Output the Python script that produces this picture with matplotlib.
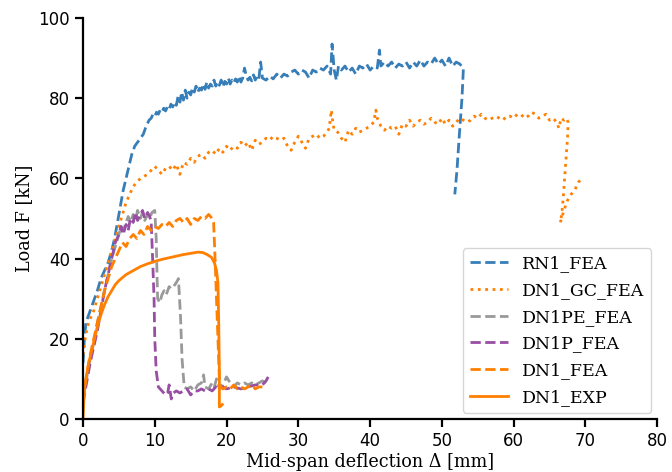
import matplotlib
matplotlib.use('Agg')
import matplotlib.pyplot as plt

# colours (Set1-like)
BLUE = '#377eb8'
ORANGE = '#ff7f00'
GREY = '#999999'
PURPLE = '#984ea3'

# RN1_FEA
rn1_x = [0.0, 0.2, 0.4, 0.8, 1.2, 1.6, 2.0, 2.5, 3.0, 3.5, 4.0, 4.4, 4.8, 5.2, 5.6, 6.0, 6.4, 6.8,
         7.2, 7.6, 8.0, 8.4, 8.8, 9.2,
         9.5, 9.75, 10.0, 10.25, 10.5, 10.75, 11.0, 11.25, 11.5, 11.75,
         12.0, 12.25, 12.5, 12.75, 13.0, 13.25, 13.5, 13.75, 14.0, 14.25,
         14.5, 14.75, 15.0, 15.25, 15.5, 15.75, 16.0, 16.25, 16.5, 16.75,
         17.0, 17.25, 17.5, 17.75, 18.0, 18.25, 18.5, 18.75, 19.0, 19.25,
         19.5, 19.75, 20.0, 20.25, 20.5, 20.75, 21.0, 21.25, 21.5, 21.75,
         22.0, 22.25, 22.5, 22.75, 23.0, 23.25, 23.5, 23.75, 24.0, 24.25,
         24.5, 24.75, 25.0,
         25.5, 26.0, 26.5, 27.0, 27.5, 28.0,
         28.5, 29.0, 29.5, 30.0, 30.5, 31.0, 31.5, 32.0, 32.5, 33.0, 33.5, 34.0, 34.5, 34.7, 35.0,
         35.3, 35.6, 36.0, 36.5, 37.0, 37.5, 38.0, 38.5, 39.0, 39.5, 40.0, 40.5, 41.0, 41.3, 41.5,
         42.0, 42.5, 43.0, 43.5, 44.0, 44.5, 45.0, 45.5, 46.0, 46.5, 47.0, 47.5, 48.0, 48.5, 49.0,
         49.5, 50.0, 50.5, 51.0, 51.5, 52.0, 52.5, 53.0, 52.8, 52.4, 52.1, 51.8]
rn1_y = [14, 20, 24, 26, 28, 30, 32, 35, 37, 39, 42, 45, 49, 53, 57, 60, 63, 66,
         68, 69, 70, 71, 73, 74.5,
         75, 76, 75.5, 76.5, 76, 77, 76.5, 77.5, 76.8, 77.8,
         77.2, 78.5, 77.8, 79, 78.2, 80.5, 79, 81.5, 79.5, 82,
         80, 81.5, 80.8, 82.5, 81.5, 83, 81.5, 82.5, 82, 83.5,
         82.2, 84, 82.5, 83.5, 83, 84.5, 83, 84, 83.2, 84.5,
         82.8, 84.2, 83.5, 85, 83.5, 84.5, 83.8, 84.8, 84, 85.5,
         84, 85, 87.5, 85.5, 84.5, 85.2, 84.3, 85.8, 84.5, 85.5,
         84.8, 89, 85,
         84.5, 85.5, 84.8, 86, 85, 86,
         85.5, 86.5, 87, 86, 87, 86.5, 85, 87, 86.5, 87.5, 87, 88, 86, 93.5, 87,
         84.5, 88, 87, 88, 86.5, 87.5, 86, 88, 87.5, 88.5, 87, 88, 87.5, 92, 88,
         89, 88, 89, 87.5, 88.5, 88, 89, 87.5, 89, 88, 89.5, 88, 89, 88.5, 90,
         88.5, 89.5, 88, 90, 88, 89, 88.5, 87.5, 80, 70, 62, 56]

# DN1_GC_FEA
gc_x = [0.0, 0.3, 0.6, 1.0, 1.5, 2.0, 2.5, 3.0, 3.5, 4.0, 4.5, 5.0, 5.5, 6.0, 6.5, 7.0, 7.5, 8.0,
        8.5, 9.0, 9.5, 10.0, 10.5, 11.0, 11.5, 12.0, 12.5, 13.0, 13.5, 14.0, 14.5, 15.0, 15.5,
        16.0, 16.5, 17.0, 17.5, 18.0, 18.5, 19.0, 19.5, 20.0, 20.5, 21.0, 21.5, 22.0, 22.5, 23.0,
        23.5, 24.0, 24.5, 25.0, 25.5, 26.0, 26.5, 27.0, 27.5, 28.0, 28.5, 29.0, 29.5, 30.0, 30.5,
        31.0, 31.5, 32.0, 32.5, 33.0, 33.5, 34.0, 34.3, 34.6, 34.8, 35.0, 35.5, 36.0, 36.5, 37.0,
        37.5, 38.0, 38.5, 39.0, 39.5, 40.0, 40.5, 40.8, 41.0, 41.5, 42.0, 42.5, 43.0, 43.5, 44.0,
        44.5, 45.0, 45.5, 46.0, 46.5, 47.0, 47.5, 48.0, 48.5, 49.0, 49.5, 50.0, 50.5, 51.0, 51.5,
        52.0, 52.5, 53.0, 53.5, 54.0, 54.5, 55.0, 55.5, 56.0, 56.5, 57.0, 57.5, 58.0, 58.5, 59.0,
        59.5, 60.0, 60.5, 61.0, 61.5, 62.0, 62.5, 63.0, 63.5, 64.0, 64.5, 65.0, 65.5, 66.0, 66.3,
        66.6, 67.0, 67.3, 67.6, 67.5, 67.3, 67.1, 66.9, 66.7, 66.5, 67.0, 67.5, 68.0, 68.5, 69.0, 69.5]
gc_y = [16, 20, 23, 25, 27, 30, 33, 36, 39, 42, 45, 48, 51, 54, 56, 58, 59, 60,
        60.5, 61, 62, 63, 62, 61, 62.5, 63, 62, 63.5, 61, 64, 63.5, 65, 64,
        65.5, 66, 65, 66.5, 67, 66, 67.5, 66.5, 68, 67, 68, 67.5, 69, 68, 69,
        67, 69.5, 68.5, 69, 70, 69.5, 70.5, 70, 69.5, 70, 68, 67, 69, 70.5, 69,
        67.5, 70, 70.5, 71, 70, 70.5, 71.5, 72.5, 77, 74, 72, 71.5, 70, 69, 72,
        71, 72.5, 71.5, 72, 72.5, 73, 74, 77, 75, 73, 72, 73, 72.5, 73, 71,
        73.5, 73, 74.5, 73, 74, 74.5, 73.5, 74, 75, 74, 73.5, 75, 73.5, 74.5, 73,
        74, 75, 74.5, 74, 74.5, 75.5, 75, 76, 75, 74.5, 75, 75.5, 75, 74.5, 75.5,
        75.5, 75, 76, 76, 75, 75.5, 76.5, 76, 75, 75.5, 76, 74.5, 75, 74, 72.5,
        75, 74.5, 75, 74, 70, 65, 60, 55, 51, 49, 52, 54.5, 56, 57, 59, 60]

# DN1PE_FEA
pe_x = [0.0, 0.5, 1.0, 1.5, 2.0, 2.5, 3.0, 3.5, 4.0, 4.5, 5.0, 5.3, 5.6, 6.0, 6.3, 6.6, 7.0, 7.3,
        7.6, 8.0, 8.3, 8.6, 9.0, 9.3, 9.6, 10.0, 10.2, 10.3, 10.4, 10.7, 11.0, 11.3, 11.6, 12.0,
        12.3, 12.6, 13.0, 13.3, 13.6, 13.8, 14.1, 14.5, 15.0, 15.5, 16.0, 16.5, 16.8, 17.0, 17.5,
        18.0, 18.3, 18.6, 19.0, 19.5, 20.0, 20.5, 21.0, 21.5, 22.0, 22.5, 23.0, 23.5, 24.0, 24.5,
        25.0, 25.5]
pe_y = [5, 10, 15, 19, 24, 28, 32, 36, 40, 43, 46, 48, 47, 49, 50.5, 49, 51, 49.5,
        52, 50, 51.5, 49.5, 51, 50, 51.5, 52, 45, 37, 30, 29, 31, 32, 31, 33,
        32.5, 33, 34, 35, 25, 15, 8, 7.5, 8, 7, 8.5, 9, 11, 8, 7.5,
        9, 8, 10, 7.5, 8.5, 10.5, 9, 8, 9, 8.5, 9, 8.5, 9, 8.5, 9,
        9.5, 9]

# DN1P_FEA
p_x = [0.0, 0.5, 1.0, 1.5, 2.0, 2.5, 3.0, 3.5, 4.0, 4.5, 5.0, 5.3, 5.6, 6.0, 6.3, 6.6, 7.0, 7.3,
       7.6, 8.0, 8.3, 8.6, 9.0, 9.3, 9.5, 9.7, 9.9, 10.0, 10.2, 10.5, 11.0, 11.5, 11.8, 12.0,
       12.3, 12.6, 13.0, 13.5, 14.0, 14.5, 15.0, 15.5, 16.0, 16.5, 17.0, 17.5, 18.0, 18.5, 19.0,
       19.5, 20.0, 21.0, 22.0, 23.0, 24.0, 25.0, 25.5, 25.8]
p_y = [4, 9, 14, 18, 22, 27, 32, 36, 40, 44, 46, 48, 46, 48.5, 47, 50, 49, 51.5,
       49.5, 51, 52, 50, 51.5, 50.5, 49, 40, 30, 20, 12, 8, 7, 6, 6.5, 8.5,
       5, 6.5, 7, 6.5, 7, 7.5, 6, 7, 7, 7.5, 7, 7.5, 7, 8, 7.5,
       8, 7.5, 8, 7.5, 8, 8.5, 8.5, 9.5, 10.5]

# DN1_FEA
fea_x = [0.0, 0.5, 1.0, 1.5, 2.0, 2.5, 3.0, 3.5, 4.0, 4.5, 5.0, 5.5, 6.0, 6.5, 7.0, 7.5, 8.0, 8.5,
         9.0, 9.5, 10.0, 10.5, 11.0, 11.5, 12.0, 12.5, 13.0, 13.5, 14.0, 14.5, 15.0, 15.5, 16.0,
         16.5, 17.0, 17.5, 18.0, 18.2, 18.4, 18.6, 18.8, 19.0, 19.2, 19.5, 20.0, 20.5, 21.0, 21.5,
         22.0, 22.5, 23.0, 23.5, 24.0, 24.5, 25.0, 25.5]
fea_y = [5, 11, 16, 20, 24, 28, 32, 35, 38, 40, 42, 44, 43, 45, 46, 45, 47, 46,
         48, 47, 48, 47.5, 48.5, 48, 49, 48, 49.5, 50, 49, 50, 48.5, 50, 49.5,
         50.5, 50, 51, 50, 49, 40, 30, 20, 10, 8, 7.5, 8, 7.5, 8.5, 7.5,
         8, 7.5, 8, 8.5, 7.5, 8, 8, 8]

# DN1_EXP
exp_x = [0.0, 0.1, 0.25, 0.5, 0.8, 1.2, 1.6, 2.0, 2.5, 3.0, 3.5, 4.0, 4.5, 5.0, 6.0, 7.0, 8.0,
         9.0, 10.0, 11.0, 12.0, 13.0, 14.0, 15.0, 16.0, 16.7, 17.3, 17.9, 18.3, 18.6, 18.8, 18.9,
         19.0, 19.0, 19.2, 19.4]
exp_y = [0, 4, 8, 11, 14, 17, 20, 23, 26, 28.5, 30.5, 32, 33.5, 34.5, 36, 37, 38,
         38.7, 39.3, 39.8, 40.2, 40.6, 41, 41.3, 41.6, 41.5, 41, 40.3, 39, 37, 34, 25,
         12, 3, 3.2, 3.6]

plt.rcParams['font.size'] = 12
plt.rcParams['axes.linewidth'] = 1.6

fig = plt.figure(figsize=(6.72, 4.72), dpi=100)
ax = fig.add_axes([0.1235, 0.1123, 0.8545, 0.8497])

lw = 2.0
ax.plot(rn1_x, rn1_y, color=BLUE, ls='--', lw=lw, label='RN1_FEA')
ax.plot(gc_x, gc_y, color=ORANGE, ls=':', lw=lw, label='DN1_GC_FEA')
ax.plot(pe_x, pe_y, color=GREY, ls='--', lw=lw, label='DN1PE_FEA')
ax.plot(p_x, p_y, color=PURPLE, ls='--', lw=lw, label='DN1P_FEA')
ax.plot(fea_x, fea_y, color=ORANGE, ls='--', lw=lw, label='DN1_FEA')
ax.plot(exp_x, exp_y, color=ORANGE, ls='-', lw=lw, label='DN1_EXP')

ax.set_xlim(0, 80)
ax.set_ylim(0, 100)
ax.set_xticks(range(0, 81, 10))
ax.set_yticks(range(0, 101, 20))
ax.tick_params(width=1.6, length=6, labelsize=12)
for s in ['top', 'right']:
    ax.spines[s].set_visible(False)

ax.set_xlabel('Mid-span deflection Δ [mm]', family='DejaVu Serif', fontsize=12.7, labelpad=2)
ax.set_ylabel('Load F [kN]', family='DejaVu Serif', fontsize=12.7)
ax.legend(loc='lower right', prop={'family': 'DejaVu Serif', 'size': 12.5},
          handlelength=2.2, labelspacing=0.56, borderaxespad=0.35)

fig.savefig('out.png', dpi=100)
